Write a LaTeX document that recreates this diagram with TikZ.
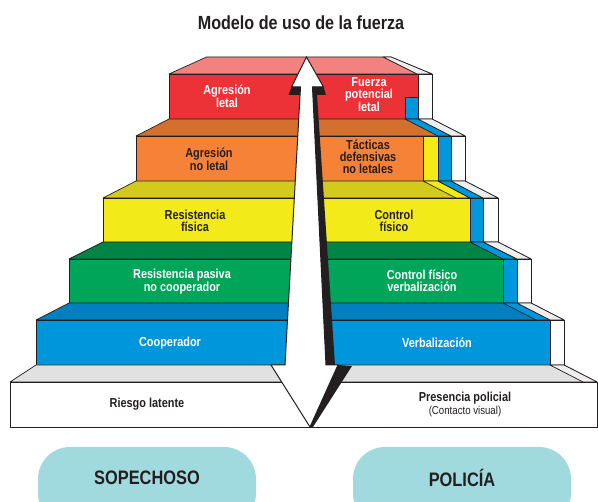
\documentclass[tikz,border=0pt]{standalone}
\usepackage{fontspec}
\setmainfont{Liberation Sans}[FakeStretch=0.84]
\newfontfamily\titlefam{Liberation Sans}[FakeStretch=0.85]
\definecolor{ink}{RGB}{35,31,32}
\definecolor{redF}{RGB}{237,50,55}
\definecolor{redT}{RGB}{241,130,128}
\definecolor{orF}{RGB}{245,130,55}
\definecolor{orT}{RGB}{212,112,45}
\definecolor{yeF}{RGB}{242,235,25}
\definecolor{yeT}{RGB}{212,202,30}
\definecolor{grF}{RGB}{0,165,90}
\definecolor{grT}{RGB}{0,133,70}
\definecolor{blF}{RGB}{0,150,220}
\definecolor{blT}{RGB}{0,128,190}
\definecolor{gyT}{RGB}{225,225,225}
\definecolor{band}{RGB}{238,238,238}
\definecolor{oval}{RGB}{160,218,222}
\begin{document}
\begin{tikzpicture}[x=1pt,y=-1pt,
  face/.style={draw=ink, line width=0.7pt, line join=round},
  lbl/.style={font=\bfseries\fontsize{13}{11.8}\selectfont, align=center, inner sep=0pt},
  wt/.style={lbl, text=white},
  dk/.style={lbl, text=ink},
  ovalbox/.style={fill=oval, rounded corners=32pt},
  ovaltext/.style={font=\bfseries\fontsize{19.5}{22}\selectfont, text=ink, inner sep=0pt}]
\useasboundingbox (0,0) rectangle (598,502);
\clip (0,0) rectangle (598,502);

% title
\node[font=\titlefam\bfseries\fontsize{19}{22}\selectfont, text=ink, inner sep=0pt] (title) at (301,23) {Modelo de uso de la fuerza};

% red level
\path[face,fill=redT] (169,74) -- (206.5,57) -- (391,57) -- (432,74) -- cycle;
\path[face,fill=band] (383,57) -- (391,57) -- (432,74) -- (417,74) -- cycle;
\path[face,fill=redF] (169,74) rectangle (432,119);
\path[face,fill=blF] (405,97) rectangle (418,119);
\path[face,fill=white] (418,74) rectangle (432,119);

% orange level
\path[face,fill=orT] (136,136) -- (169,119) -- (432,119) -- (465,136) -- cycle;
\path[face,fill=blF] (405,119) -- (418,119) -- (451,136) -- (438,136) -- cycle;
\path[face,fill=band] (418,119) -- (432,119) -- (465,136) -- (451,136) -- cycle;
\path[face,fill=orF] (136,136) rectangle (465,181);
\path[face,fill=yeF] (423,136) rectangle (438,181);
\path[face,fill=blF] (438,136) rectangle (451,181);
\path[face,fill=white] (451,136) rectangle (465,181);

% yellow level
\path[face,fill=yeT] (103,198) -- (136,181) -- (465,181) -- (498,198) -- cycle;
\path[face,fill=yeF] (423,181) -- (438,181) -- (470,198) -- (456,198) -- cycle;
\path[face,fill=blF] (438,181) -- (451,181) -- (483,198) -- (470,198) -- cycle;
\path[face,fill=band] (451,181) -- (465,181) -- (498,198) -- (483,198) -- cycle;
\path[face,fill=yeF] (103,198) rectangle (498,242);
\path[face,fill=blF] (470,198) rectangle (483,242);
\path[face,fill=white] (483,198) rectangle (498,242);

% green level
\path[face,fill=grT] (69,259) -- (103,242) -- (498,242) -- (531,259) -- cycle;
\path[face,fill=blF] (470,242) -- (483,242) -- (517,259) -- (503,259) -- cycle;
\path[face,fill=band] (483,242) -- (498,242) -- (531,259) -- (517,259) -- cycle;
\path[face,fill=grF] (69,259) rectangle (531,303);
\path[face,fill=blF] (503,259) rectangle (517,303);
\path[face,fill=white] (517,259) rectangle (531,303);

% blue level
\path[face,fill=blT] (36,320) -- (69,303) -- (531,303) -- (564,320) -- cycle;
\path[face,fill=blF] (503,303) -- (517,303) -- (550,320) -- (536,320) -- cycle;
\path[face,fill=band] (517,303) -- (531,303) -- (564,320) -- (550,320) -- cycle;
\path[face,fill=blF] (36,320) rectangle (564,365);
\path[face,fill=white] (550,320) rectangle (564,365);

% base level
\path[face,fill=gyT] (10,382) -- (36,365) -- (564,365) -- (597,382) -- cycle;
\path[face,fill=band] (550,365) -- (564,365) -- (597,382) -- (583,382) -- cycle;
\path[face,fill=white] (10,382) rectangle (597,427);

% arrow
\path[draw=ink, line width=1pt, fill=white, line join=miter]
  (306.5,57) -- (291.5,87) -- (300.5,87) -- (285,365) -- (271,365) -- (310,427)
  -- (338,365) -- (326,365) -- (312.5,87) -- (323.5,87) -- cycle;
\fill[ink] (312.5,87) -- (316.5,87) -- (335,365) -- (326,365) -- cycle;
\fill[ink] (338,365) -- (352,366) -- (313,427) -- (310,427) -- cycle;
\fill[ink] (291.5,87) -- (300.5,87) -- (300,95) -- (288.5,95) -- cycle;
\fill[ink] (312.5,87) -- (323.5,87) -- (326,95) -- (313,95) -- cycle;

% left labels
\node[wt] (l1) at (227,96) {Agresión\\letal};
\node[dk] (l2) at (209,159) {Agresión\\no letal};
\node[dk] (l3) at (195,221) {Resistencia\\física};
\node[wt] (l4) at (182,282) {Resistencia pasiva\\no cooperador};
\node[wt] (l5) at (170,343) {Cooperador};
\node[dk] (l6) at (147,404) {Riesgo latente};

% right labels
\node[wt] (r1) at (369,95) {Fuerza\\potencial\\letal};
\node[dk] (r2) at (368,157) {Tácticas\\defensivas\\no letales};
\node[dk] (r3) at (394,221) {Control\\físico};
\node[wt] (r4) at (422,281) {Control físico\\verbalización};
\node[wt] (r5) at (437,343) {Verbalización};
\node[dk] (r6) at (465,398) {Presencia policial};
\node[text=ink, font=\fontsize{11.5}{12}\selectfont, inner sep=0pt] (r7) at (465,411.5) {(Contacto visual)};

% ovals
\path[ovalbox] (38,447) rectangle (256,525);
\path[ovalbox] (353,447) rectangle (571,525);
\node[ovaltext] (sus) at (147,477.5) {SOPECHOSO};
\node[ovaltext] (pol) at (462,477.5) {POLICÍA};
\end{tikzpicture}
\end{document}
